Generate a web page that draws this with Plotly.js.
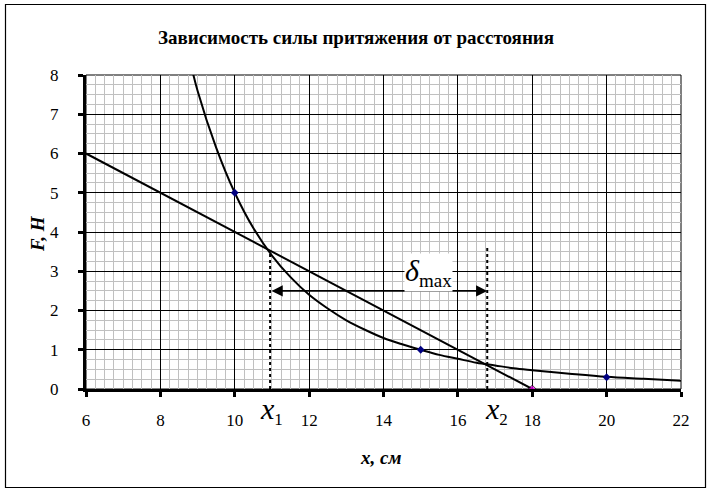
<!DOCTYPE html>
<html>
<head>
<meta charset="utf-8">
<script src="https://cdn.plot.ly/plotly-3.0.1.min.js"></script>
<style>html,body{margin:0;padding:0;background:#fff;}#chart{width:711px;height:494px;}</style>
</head>
<body>
<div id="chart"></div>
<script>
// Hyperbola-like curve F(x)
const curveX = [8.8, 9, 9.5, 10, 10.5, 11, 11.5, 12, 12.5, 13, 13.5, 14, 14.5, 15, 15.5, 16, 16.5, 17, 17.5, 18, 19, 20, 21, 22];
const curveY = [8.35, 7.6, 6.15, 5.0, 4.1, 3.4, 2.85, 2.4, 2.05, 1.75, 1.51, 1.3, 1.14, 1.0, 0.87, 0.77, 0.67, 0.6, 0.53, 0.48, 0.39, 0.31, 0.26, 0.21];
// Marked data points on the curve
const markX = [10, 15, 20];
const markY = [5, 1, 0.3];
// Straight line
const lineX = [6, 18];
const lineY = [6, 0];
const lineMarkSize = [0, 6];
// Intersections / arrow
const x1 = 10.95, x1Top = 3.5;
const x2 = 16.79, x2Top = 3.62;
const arrowY = 2.5;
const xTicks = [6, 8, 10, 12, 14, 16, 18, 20, 22];
const yTicks = [0, 1, 2, 3, 4, 5, 6, 7, 8];

const serif = '"Times New Roman", "Liberation Serif", "DejaVu Serif", serif';

const traces = [
  {x: curveX, y: curveY, mode: 'lines', line: {color: '#000', width: 2, shape: 'spline', smoothing: 1}, hoverinfo: 'skip'},
  {x: lineX, y: lineY, mode: 'lines+markers', line: {color: '#000', width: 2},
   marker: {size: lineMarkSize, color: '#ff00ff', symbol: 'diamond'}, cliponaxis: false},
  {x: markX, y: markY, mode: 'markers', marker: {size: 6, color: '#000080', symbol: 'diamond'}, cliponaxis: false}
];

const L = 86, R = 681, T = 75, B = 389;
const pw = R - L, ph = B - T;
const px = v => (v - L) / pw;
const py = v => (B - v) / ph;

const layout = {
  width: 711, height: 494,
  margin: {l: L, r: 711 - R, t: T, b: 494 - B, pad: 0},
  paper_bgcolor: '#fff', plot_bgcolor: '#fff',
  showlegend: false,
  font: {family: serif, color: '#000', size: 16},
  title: {text: '<b>Зависимость силы притяжения от расстояния</b>', font: {family: serif, size: 19, color: '#000'},
          x: 356 / 711, xanchor: 'center', y: 1 - 37 / 494, yanchor: 'middle'},
  xaxis: {range: [6, 22], tickvals: xTicks, ticktext: xTicks.map(String),
          showgrid: true, gridcolor: '#000', gridwidth: 1,
          minor: {dtick: 0.25, tick0: 6, showgrid: true, gridcolor: '#c0c0c0', gridwidth: 1, ticks: ''},
          zeroline: false, showline: true, linecolor: '#000', linewidth: 3,
          ticks: 'outside', ticklen: 5, tickwidth: 3, tickcolor: '#000',
          ticklabelstandoff: 9, tickfont: {family: serif, size: 17, color: '#000'}, fixedrange: true},
  yaxis: {range: [0, 8], tickvals: yTicks, ticktext: yTicks.map(String),
          showgrid: true, gridcolor: '#000', gridwidth: 1,
          minor: {dtick: 0.25, tick0: 0, showgrid: true, gridcolor: '#c0c0c0', gridwidth: 1, ticks: ''},
          zeroline: false, showline: true, linecolor: '#000', linewidth: 3,
          ticks: 'outside', ticklen: 5, tickwidth: 3, tickcolor: '#000',
          ticklabelstandoff: 16, tickfont: {family: serif, size: 17, color: '#000'}, fixedrange: true},
  shapes: [
    {type: 'rect', xref: 'paper', yref: 'paper', x0: 0, x1: 1, y0: 0, y1: 1, line: {color: '#000', width: 1}, layer: 'below'},
    {type: 'rect', xref: 'paper', yref: 'paper', x0: px(5.5), x1: px(705.5), y0: py(487.5), y1: py(4.5), line: {color: '#000', width: 1.2}},
    {type: 'line', xref: 'x', yref: 'y', x0: x1, x1: x1, y0: 0, y1: x1Top, line: {color: '#000', width: 2, dash: 'dot'}},
    {type: 'line', xref: 'x', yref: 'y', x0: x2, x1: x2, y0: 0, y1: x2Top, line: {color: '#000', width: 2, dash: 'dot'}}
  ],
  annotations: [
    {x: x2, y: arrowY, ax: x1, ay: arrowY, xref: 'x', yref: 'y', axref: 'x', ayref: 'y', text: '',
     showarrow: true, arrowside: 'end+start', arrowhead: 2, arrowsize: 1.4, arrowwidth: 1.6, arrowcolor: '#000', standoff: 0, startstandoff: 0},
    {x: 15.2, y: 2.98, xref: 'x', yref: 'y', xanchor: 'center', yanchor: 'middle', showarrow: false,
     text: "<i>δ</i><sub><span style='font-size:19px'>max</span></sub>", font: {family: serif, size: 30, color: '#000'},
     bgcolor: '#fff', borderpad: 0},
    {x: px(271), y: py(410), xref: 'paper', yref: 'paper', xanchor: 'center', yanchor: 'middle', showarrow: false,
     text: "<i>x</i><sub><span style='font-size:17px'>1</span></sub>", font: {family: serif, size: 30, color: '#000'}},
    {x: px(496), y: py(410), xref: 'paper', yref: 'paper', xanchor: 'center', yanchor: 'middle', showarrow: false,
     text: "<i>x</i><sub><span style='font-size:17px'>2</span></sub>", font: {family: serif, size: 30, color: '#000'}},
    {x: px(380), y: py(457), xref: 'paper', yref: 'paper', xanchor: 'center', yanchor: 'middle', showarrow: false,
     text: '<b><i>x, см</i></b>', font: {family: serif, size: 19, color: '#000'}},
    {x: px(37), y: py(234), xref: 'paper', yref: 'paper', xanchor: 'center', yanchor: 'middle', showarrow: false, textangle: -90,
     text: '<b><i>F, H</i></b>', font: {family: serif, size: 19, color: '#000'}}
  ]
};

Plotly.newPlot('chart', traces, layout, {staticPlot: true, displayModeBar: false});
</script>
</body>
</html>
